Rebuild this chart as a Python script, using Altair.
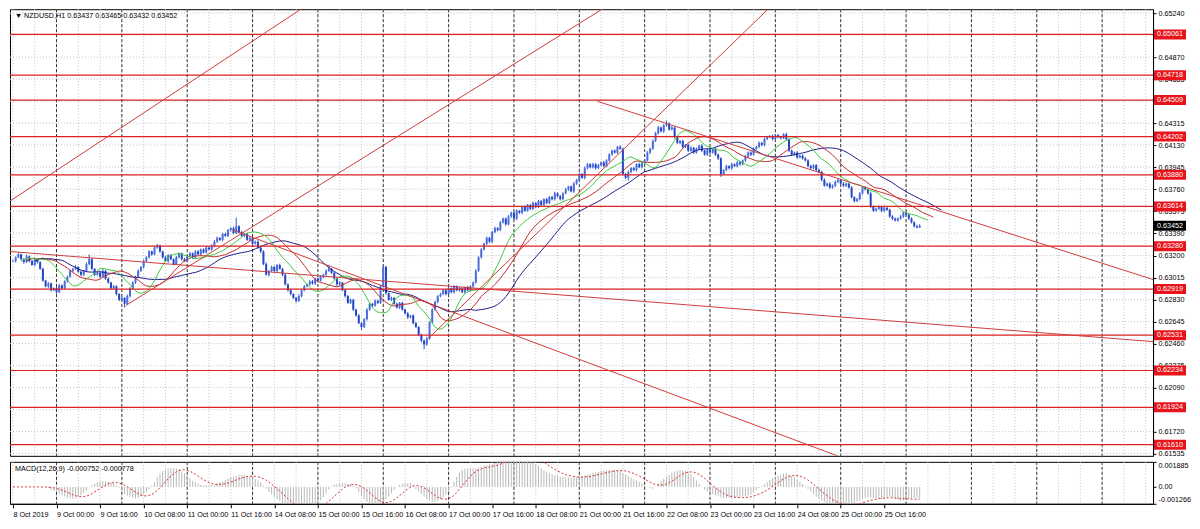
import json
import altair as alt
import pandas as pd

# ---------------- data ----------------
# hourly closes, in 1e-5 price units (bar 0 = 8 Oct 2019 08:00)
closes = [
    63154, 63186, 63211, 63170, 63146, 63194, 63154, 63121, 63170, 63146,
    63089, 62991, 62942, 62966, 62909, 62926, 62893, 62950, 62926, 62983,
    63023, 63072, 63089, 63105, 63064, 63040, 63072, 63129, 63170, 63089,
    63040, 63056, 63023, 63072, 63007, 62974, 62926, 62942, 62877, 62828,
    62844, 62795, 62860, 62926, 62974, 63023, 63072, 63105, 63154, 63186,
    63235, 63211, 63268, 63284, 63235, 63186, 63154, 63203, 63170, 63129,
    63186, 63219, 63170, 63154, 63194, 63219, 63186, 63235, 63211, 63252,
    63227, 63268, 63252, 63284, 63317, 63349, 63333, 63382, 63366, 63415,
    63431, 63390, 63447, 63398, 63366, 63382, 63333, 63349, 63300, 63317,
    63268, 63235, 63129, 63040, 63072, 63105, 63072, 63121, 63089, 63040,
    62958, 62909, 62877, 62844, 62820, 62860, 62909, 62942, 62958, 62983,
    62966, 63007, 62991, 63023, 63040, 63072, 63089, 63056, 63007, 62958,
    62974, 62909, 62860, 62803, 62828, 62746, 62697, 62632, 62600, 62665,
    62746, 62795, 62779, 62820, 62803, 62942, 63105, 62885, 62828, 62844,
    62795, 62763, 62803, 62746, 62714, 62681, 62697, 62632, 62600, 62534,
    62485, 62453, 62502, 62640, 62746, 62811, 62860, 62877, 62909, 62877,
    62926, 62893, 62942, 62909, 62926, 62893, 62934, 62909, 62942, 62974,
    63072, 63186, 63252, 63300, 63349, 63317, 63398, 63431, 63415, 63480,
    63512, 63463, 63529, 63561, 63512, 63578, 63561, 63610, 63578, 63626,
    63594, 63643, 63610, 63659, 63626, 63675, 63643, 63692, 63675, 63724,
    63700, 63675, 63724, 63757, 63781, 63741, 63806, 63838, 63887, 63855,
    63936, 63969, 63944, 63969, 63936, 63961, 63985, 63953, 64001, 64050,
    64083, 64067, 64115, 64099, 63887, 63855, 63904, 63936, 63920, 63969,
    63944, 63985, 64001, 64067, 64099, 64164, 64230, 64278, 64246, 64295,
    64311, 64262, 64278, 64197, 64148, 64164, 64115, 64132, 64083, 64107,
    64067, 64099, 64124, 64083, 64050, 64091, 64067, 64099, 64050, 64018,
    63887, 63920, 63953, 63936, 63969, 63953, 63985, 63969, 64001, 64034,
    64067, 64050, 64099, 64115, 64148, 64132, 64181, 64197, 64205, 64181,
    64213, 64197, 64189, 64221, 64181, 64083, 64050, 64067, 64026, 64042,
    64018, 64001, 63953, 63936, 63961, 63920, 63904, 63838, 63789, 63806,
    63773, 63789, 63822, 63838, 63806, 63789, 63806, 63773, 63692, 63659,
    63675, 63724, 63773, 63757, 63724, 63610, 63578, 63594, 63610, 63578,
    63602, 63586, 63529, 63512, 63496, 63512, 63529, 63561, 63545, 63512,
    63480, 63447, 63437, 63452,
]
# upper / lower wick lengths, 1e-5 price units
wick_up = [
    12, 8, 15, 6, 10, 14, 7, 9, 12, 5, 8, 10, 6, 12, 9, 7, 11, 14, 8, 10,
    9, 12, 7, 15, 6, 10, 8, 13, 40, 9, 6, 11, 8, 14, 7, 10, 6, 12, 9, 8,
    11, 7, 13, 9, 10, 8, 12, 6, 14, 9, 11, 7, 10, 15, 8, 6, 12, 9, 10, 7,
    13, 8, 6, 11, 9, 12, 7, 10, 14, 8, 9, 12, 6, 10, 13, 11, 7, 9, 12, 10,
    8, 14, 73, 9, 11, 7, 10, 12, 6, 9, 13, 8, 10, 15, 7, 11, 9, 8, 12, 6,
    10, 8, 12, 7, 9, 14, 6, 11, 8, 10, 12, 7, 9, 13, 8, 11, 24, 7, 10, 9,
    12, 6, 10, 8, 11, 9, 7, 13, 8, 10, 12, 9, 7, 11, 8, 14, 8, 10, 6, 12,
    9, 11, 7, 10, 8, 12, 6, 9, 11, 7, 10, 8, 13, 9, 12, 10, 7, 11, 8, 9,
    12, 7, 10, 8, 11, 9, 6, 12, 10, 8, 14, 9, 11, 7, 12, 10, 8, 13, 9, 11,
    7, 10, 12, 8, 9, 11, 6, 10, 13, 8, 9, 12, 7, 10, 11, 8, 12, 9, 10, 14,
    8, 11, 9, 12, 7, 10, 13, 8, 11, 9, 14, 10, 8, 12, 9, 11, 7, 13, 10, 12,
    9, 11, 8, 14, 10, 9, 12, 7, 11, 8, 13, 9, 10, 12, 8, 14, 11, 13, 9, 12,
    24, 10, 12, 8, 11, 9, 13, 7, 10, 12, 8, 11, 9, 14, 8, 10, 12, 7, 11, 9,
    10, 8, 12, 9, 11, 7, 13, 10, 8, 12, 9, 11, 10, 8, 13, 9, 12, 11, 10, 14,
    9, 12, 10, 8, 13, 7, 11, 9, 12, 8, 10, 11, 9, 12, 8, 10, 13, 9, 11, 8,
    12, 10, 9, 11, 8, 13, 10, 9, 12, 8, 11, 10, 9, 12, 8, 14, 10, 9, 11, 8,
    10, 12, 9, 11, 8, 10, 12, 9, 8, 11, 10, 9, 13, 13,
]
wick_dn = [
    9, 12, 7, 10, 14, 8, 11, 6, 10, 13, 9, 12, 8, 14, 10, 7, 12, 9, 11, 8,
    10, 7, 12, 9, 8, 11, 13, 7, 10, 9, 12, 8, 11, 6, 10, 9, 13, 8, 12, 10,
    9, 32, 8, 11, 10, 12, 7, 9, 13, 8, 10, 11, 7, 9, 12, 10, 8, 14, 9, 11,
    7, 10, 12, 9, 11, 8, 13, 10, 7, 12, 9, 10, 8, 11, 14, 9, 10, 12, 8, 9,
    11, 9, 10, 13, 8, 12, 9, 10, 11, 7, 9, 12, 10, 8, 14, 9, 11, 10, 8, 12,
    9, 11, 10, 8, 15, 10, 12, 9, 8, 11, 10, 13, 7, 9, 12, 10, 8, 11, 9, 12,
    10, 8, 13, 9, 11, 12, 10, 8, 25, 9, 11, 10, 12, 8, 10, 9, 11, 12, 8, 10,
    11, 9, 12, 10, 8, 13, 9, 11, 10, 12, 14, 41, 10, 9, 11, 8, 12, 10, 9, 11,
    8, 10, 12, 9, 11, 10, 13, 8, 9, 12, 10, 8, 11, 9, 13, 10, 12, 8, 11, 9,
    10, 12, 8, 11, 9, 13, 10, 12, 9, 8, 11, 10, 12, 9, 8, 13, 10, 9, 11, 12,
    9, 11, 10, 8, 12, 9, 13, 10, 11, 8, 12, 9, 10, 11, 13, 8, 10, 12, 9, 11,
    10, 8, 12, 9, 11, 13, 24, 10, 9, 12, 8, 11, 10, 9, 12, 10, 8, 11, 9, 13,
    10, 12, 9, 11, 8, 10, 13, 9, 12, 10, 11, 8, 10, 12, 9, 11, 10, 8, 12, 14,
    24, 10, 9, 11, 12, 8, 10, 13, 9, 11, 10, 12, 8, 9, 11, 10, 12, 9, 8, 11,
    10, 9, 12, 8, 11, 13, 10, 9, 12, 8, 11, 10, 9, 12, 10, 8, 11, 13, 9, 10,
    11, 9, 12, 10, 8, 11, 13, 9, 10, 12, 8, 11, 10, 9, 12, 10, 11, 8, 9, 12,
    10, 9, 11, 12, 8, 10, 9, 11, 10, 12, 9, 10, 8, 5,
]
assert len(closes) == len(wick_up) == len(wick_dn) == 334

# horizontal support / resistance levels
level_prices = [0.65061, 0.64718, 0.64509, 0.64202, 0.63880, 0.63614,
                0.63280, 0.62919, 0.62531, 0.62234, 0.61924, 0.61610]
current_price = 0.63452

# trend lines: two anchor points each (bar index, price)
trend_id = [1, 1, 2, 2, 3, 3, 4, 4, 5, 5, 6, 6]
trend_bar = [-1.1, 106.8, 41.4, 218.3, 152.5, 278.0,
             214.7, 418.7, -1.1, 418.7, 80.9, 302.9]
trend_price = [0.63659, 0.65289, 0.62780, 0.65300, 0.62502, 0.65289,
               0.64498, 0.62999, 0.63235, 0.62477, 0.63415, 0.61515]

# axis tick labels (those fully hidden behind level tags in the reference are left out)
price_ticks = [0.65240, 0.64870, 0.64685, 0.64315, 0.64130,
               0.63945, 0.63760, 0.63575, 0.63390, 0.63200, 0.63015, 0.62830,
               0.62645, 0.62460, 0.62275, 0.62090, 0.61720, 0.61535]
grid_prices = [0.65240, 0.65055, 0.64870, 0.64685, 0.64500, 0.64315, 0.64130,
               0.63945, 0.63760, 0.63575, 0.63390, 0.63200, 0.63015, 0.62830,
               0.62645, 0.62460, 0.62275, 0.62090, 0.61905, 0.61720, 0.61535]
macd_ticks = [0.001885, 0.0, -0.001266]
macd_tick_labels = ["0.001885", "0.00", "-0.001266"]
time_labels = ["8 Oct 2019", "9 Oct 00:00", "9 Oct 16:00", "10 Oct 08:00",
               "11 Oct 00:00", "11 Oct 16:00", "14 Oct 08:00", "15 Oct 00:00",
               "15 Oct 16:00", "16 Oct 08:00", "17 Oct 00:00", "17 Oct 16:00",
               "18 Oct 08:00", "21 Oct 00:00", "21 Oct 16:00", "22 Oct 08:00",
               "23 Oct 00:00", "23 Oct 16:00", "24 Oct 08:00", "25 Oct 00:00",
               "25 Oct 16:00"]
time_label_bars = list(range(0, 16 * len(time_labels), 16))
light_grid_bars = list(range(0, 420, 8))
day_sep_bars = list(range(16, 420, 24))

title_main = "\u25bc NZDUSD,H1  0.63437 0.63465 0.63432 0.63452"
title_macd = "MACD(12,26,9) -0.000752 -0.000778"

# ---------------- layout / style ----------------
W, H1, H2 = 1144, 447, 42
FONT = "Liberation Sans"
FS = 7.2
xs = alt.Scale(domain=[-1.08, 418.7], nice=False, zero=False)
ys = alt.Scale(domain=[0.61516, 0.65273], nice=False, zero=False)
ms = alt.Scale(domain=[-0.001266, 0.001885], nice=False, zero=False)
srt = [alt.SortField("idx", order="ascending")]

RED = "#dd2020"

y_axis = alt.Axis(orient="right", values=price_ticks, format=".5f", title=None,
                  grid=False, tickSize=3, tickColor="#000", domainColor="#000",
                  labelFont=FONT, labelFontSize=FS, labelColor="#000",
                  labelPadding=2, labelOverlap=False, zindex=0)
x_axis = alt.Axis(orient="bottom", values=time_label_bars,
                  labelExpr=json.dumps(time_labels) + "[round(datum.value / 16)]",
                  labelAlign="left", labelBaseline="top", labelPadding=3,
                  tickSize=4, tickColor="#000", domainColor="#000", grid=False,
                  labelFont=FONT, labelFontSize=FS, labelColor="#000",
                  labelOverlap=False, labelBound=False, labelFlush=False, title=None)
m_axis = alt.Axis(orient="right", values=macd_ticks,
                  labelExpr=json.dumps(macd_tick_labels) + "[datum.value > 0.001 ? 0 : (datum.value < -0.001 ? 2 : 1)]",
                  grid=False, tickSize=3, tickColor="#000", domainColor="#000",
                  labelFont=FONT, labelFontSize=FS, labelColor="#000",
                  labelPadding=2, labelFlush=True, labelOverlap=False, title=None)


def PY(field):
    return alt.Y(field, scale=ys, axis=y_axis)


def PX(field):
    return alt.X(field, scale=xs, axis=None)


def MY(field):
    return alt.Y(field, scale=ms, axis=m_axis)


def MX(field):
    return alt.X(field, scale=xs, axis=x_axis)


df = pd.DataFrame({"idx": list(range(len(closes))), "c": closes,
                   "wu": wick_up, "wd": wick_dn})

ohlc = (alt.Chart(df)
        .transform_window(prev="lag(c)", sort=srt)
        .transform_calculate(open="(isValid(datum.prev) ? datum.prev : datum.c) / 100000")
        .transform_calculate(close="datum.c / 100000")
        .transform_calculate(high="max(datum.open, datum.close) + datum.wu / 100000")
        .transform_calculate(low="min(datum.open, datum.close) - datum.wd / 100000")
        .transform_calculate(median="(datum.high + datum.low) / 2"))

light_df = pd.DataFrame({"bar": light_grid_bars})
dark_df = pd.DataFrame({"bar": day_sep_bars})
hgrid_df = pd.DataFrame({"price": grid_prices})

light_m = alt.Chart(light_df).mark_rule(color="#c4c4c4", strokeDash=[1, 2], strokeWidth=1).encode(x=PX("bar:Q"))
dark_m = alt.Chart(dark_df).mark_rule(color="#333333", strokeDash=[3, 2], strokeWidth=1).encode(x=PX("bar:Q"))
hgrid_m = alt.Chart(hgrid_df).mark_rule(color="#c4c4c4", strokeDash=[1, 2], strokeWidth=1).encode(y=PY("price:Q"))

wicks = ohlc.mark_rule(color="#2f55d4", strokeWidth=1).encode(
    x=PX("idx:Q"), y=PY("low:Q"), y2="high:Q")
bodies = ohlc.mark_rule(strokeWidth=2).encode(
    x=PX("idx:Q"), y=PY("open:Q"), y2="close:Q",
    color=alt.condition("datum.close >= datum.open", alt.value("#4a6ee0"), alt.value("#2446c4")),
)

ma = (ohlc
      .transform_window(lips="mean(median)", frame=[-8, 0], sort=srt)
      .transform_window(teeth="mean(median)", frame=[-14, 0], sort=srt)
      .transform_window(jaw="mean(median)", frame=[-24, 0], sort=srt)
      .transform_calculate(x_lips="datum.idx + 3")
      .transform_calculate(x_teeth="datum.idx + 5")
      .transform_calculate(x_jaw="datum.idx + 8"))
jaw = ma.mark_line(color="#1c1c8a", strokeWidth=1, clip=True).encode(x=PX("x_jaw:Q"), y=PY("jaw:Q"))
teeth = ma.mark_line(color="#c42a2a", strokeWidth=1, clip=True).encode(x=PX("x_teeth:Q"), y=PY("teeth:Q"))
lips = ma.mark_line(color="#3ec83e", strokeWidth=1, clip=True).encode(x=PX("x_lips:Q"), y=PY("lips:Q"))

lv_df = pd.DataFrame({"price": level_prices,
                      "txt": [f"{p:.5f}" for p in level_prices]})
levels = alt.Chart(lv_df).mark_rule(color=RED, strokeWidth=1.2).encode(y=PY("price:Q"))
lv_box = alt.Chart(lv_df).mark_rule(color="#e8141b", strokeWidth=10, strokeCap="butt").encode(
    y=PY("price:Q"), x=alt.value(W + 1), x2=alt.value(W + 33))
lv_txt = alt.Chart(lv_df).mark_text(align="left", baseline="middle", color="white",
                                    font=FONT, fontSize=FS).encode(
    y=PY("price:Q"), x=alt.value(W + 4), text="txt:N")

cur_df = pd.DataFrame({"price": [current_price], "txt": [f"{current_price:.5f}"]})
cur_box = alt.Chart(cur_df).mark_rule(color="#000", strokeWidth=10, strokeCap="butt").encode(
    y=PY("price:Q"), x=alt.value(W + 1), x2=alt.value(W + 33))
cur_txt = alt.Chart(cur_df).mark_text(align="left", baseline="middle", color="white",
                                      font=FONT, fontSize=FS).encode(
    y=PY("price:Q"), x=alt.value(W + 4), text="txt:N")

tr_df = pd.DataFrame({"line": trend_id, "bar": trend_bar, "price": trend_price})
trends = alt.Chart(tr_df).mark_line(color="#d03c3c", strokeWidth=1, clip=True).encode(
    x=PX("bar:Q"), y=PY("price:Q"), detail="line:N")

title_m = alt.Chart(pd.DataFrame({"t": [title_main]})).mark_text(
    align="left", baseline="middle", font=FONT, fontSize=FS, color="#000"
).encode(x=alt.value(5), y=alt.value(7), text="t:N")

main = alt.layer(
    light_m, hgrid_m, dark_m, wicks, bodies, jaw, teeth, lips, levels, trends,
    lv_box, lv_txt, cur_box, cur_txt, title_m
).properties(width=W, height=H1)

# ---------------- MACD panel ----------------
mb = (alt.Chart(df)
      .transform_calculate(close="datum.c / 100000")
      .transform_window(fast="mean(close)", frame=[-11, 0], sort=srt)
      .transform_window(slow="mean(close)", frame=[-25, 0], sort=srt)
      .transform_calculate(macd="datum.fast - datum.slow")
      .transform_calculate(zero="0")
      .transform_window(signal="mean(macd)", frame=[-8, 0], sort=srt))

light_b = alt.Chart(light_df).mark_rule(color="#c4c4c4", strokeDash=[1, 2], strokeWidth=1).encode(x=MX("bar:Q"))
dark_b = alt.Chart(dark_df).mark_rule(color="#333333", strokeDash=[3, 2], strokeWidth=1).encode(x=MX("bar:Q"))
hist = mb.mark_rule(color="#b8b8b8", strokeWidth=1, clip=True).encode(
    x=MX("idx:Q"), y=MY("macd:Q"), y2="zero:Q")
signal = mb.mark_line(color="#d83030", strokeWidth=1, strokeDash=[2, 2], clip=True).encode(
    x=MX("idx:Q"), y=MY("signal:Q"))
title_b = alt.Chart(pd.DataFrame({"t": [title_macd]})).mark_text(
    align="left", baseline="middle", font=FONT, fontSize=FS, color="#000"
).encode(x=alt.value(5), y=alt.value(7), text="t:N")

macd = alt.layer(light_b, dark_b, hist, signal, title_b).properties(width=W, height=H2)

chart = (alt.vconcat(main, macd, spacing=3)
         .properties(padding={"left": 0, "top": 0, "right": 0, "bottom": 0},
                     background="white")
         .configure_view(stroke="#000", strokeWidth=1))

chart.save("out.html", embed_options={"renderer": "svg", "actions": False})
